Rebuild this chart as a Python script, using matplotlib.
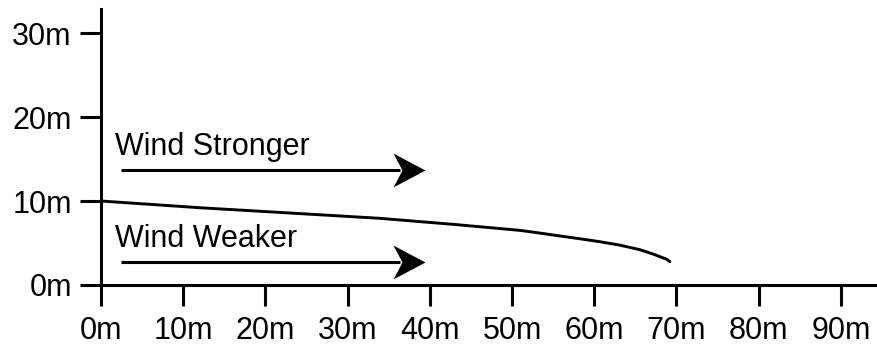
import matplotlib
matplotlib.use("Agg")
import matplotlib.pyplot as plt
from matplotlib.path import Path

# Trajectoire (distance en m, hauteur en m)
distance = [0, 12, 23, 33.9, 43.1, 51.0, 53.4, 55.8, 58.3, 60.7, 63.1, 65.6, 67.2, 68.8, 69.2]
height = [10, 9.2, 8.57, 7.94, 7.2, 6.5, 6.18, 5.84, 5.5, 5.15, 4.75, 4.19, 3.67, 3.07, 2.78]

# Flèches du vent : début, pointe, hauteur
arrow_start = [2.4, 2.4]
arrow_tip = [39.4, 39.4]
arrow_y = [13.7, 2.77]

# Étiquettes
labels = ["Wind Stronger", "Wind Weaker"]
label_x = [1.7, 1.7]
label_y = [15.5, 4.56]

xticks = list(range(0, 100, 10))
yticks = [0, 10, 20, 30]

plt.rcParams['font.family'] = ['Liberation Sans', 'DejaVu Sans']

fig = plt.figure(figsize=(8.77, 3.5), dpi=100)
ax = fig.add_axes([101 / 877, 65 / 350, 776 / 877, 276 / 350])

ax.plot(distance, height, color='black', lw=2.1, solid_capstyle='round')

# Pointe de flèche concave (style "stealth")
head = Path([(0, 0), (-1, 0.53), (-0.72, 0), (-1, -0.53), (0, 0)],
            [Path.MOVETO, Path.LINETO, Path.LINETO, Path.LINETO, Path.CLOSEPOLY])
for x0, x1, y in zip(arrow_start, arrow_tip, arrow_y):
    ax.plot([x0, x1 - 3], [y, y], color='black', lw=2.2, solid_capstyle='butt')
    ax.plot([x1], [y], marker=head, markersize=46, color='black', markeredgewidth=0)

for txt, x, y in zip(labels, label_x, label_y):
    ax.text(x, y, txt, fontsize=22, va='baseline', ha='left')

ax.set_xlim(0, 94.4)
ax.set_ylim(0, 32.86)
ax.set_xticks(xticks)
ax.set_xticklabels([f"{v}m" for v in xticks])
ax.set_yticks(yticks)
ax.set_yticklabels([f"{v}m" for v in yticks])

for s in ['top', 'right']:
    ax.spines[s].set_visible(False)
for s in ['left', 'bottom']:
    ax.spines[s].set_linewidth(2.2)

ax.tick_params(axis='both', direction='out', length=15, width=2.2, labelsize=22)
ax.tick_params(axis='x', pad=7)
ax.tick_params(axis='y', pad=6)

fig.savefig("out.png", dpi=100)
